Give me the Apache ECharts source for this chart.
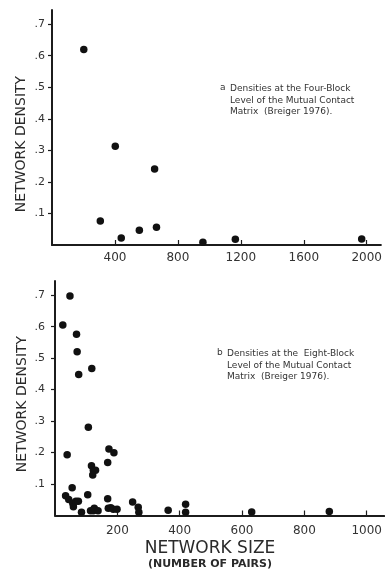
<!DOCTYPE html>
<html>
<head>
<meta charset="utf-8">
<script src="https://cdn.jsdelivr.net/npm/echarts@6/dist/echarts.min.js"></script>
<style>
html, body { margin: 0; padding: 0; background: #fff; }
#chart { width: 385px; height: 572px; }
</style>
</head>
<body>
<div id="chart"></div>
<script>
// panel a: four-block level
var sizeA = [202, 402, 307, 440, 555, 652, 664, 959, 1165, 1968];
var densityA = [0.620, 0.313, 0.076, 0.022, 0.047, 0.241, 0.056, 0.009, 0.018, 0.019];

// panel b: eight-block level
var sizeB = [34, 44, 55, 57, 59, 67, 75, 85, 105, 114, 123, 126, 138, 117, 123, 130, 121,
  169, 169, 173, 189, 171, 179, 187, 199, 249, 267, 269, 363, 419, 419,
  25, 48, 69, 71, 76, 118, 107, 39, 631, 880];
var densityB = [0.063, 0.051, 0.088, 0.039, 0.028, 0.045, 0.045, 0.010, 0.066, 0.015, 0.015, 0.023, 0.015, 0.158, 0.144, 0.144, 0.129,
  0.053, 0.168, 0.211, 0.199, 0.023, 0.025, 0.020, 0.020, 0.043, 0.026, 0.010, 0.017, 0.036, 0.010,
  0.605, 0.697, 0.576, 0.520, 0.448, 0.467, 0.280, 0.193, 0.011, 0.013];

var xTicksA = [400, 800, 1200, 1600, 2000];
var xTicksB = [200, 400, 600, 800, 1000];
var yTicks = [0.1, 0.2, 0.3, 0.4, 0.5, 0.6, 0.7];

var noteA = ['Densities at the Four-Block', 'Level of the Mutual Contact', 'Matrix  (Breiger 1976).'];
var noteB = ['Densities at the  Eight-Block', 'Level of the Mutual Contact', 'Matrix  (Breiger 1976).'];

function pairs(xs, ys) {
  var out = [];
  for (var i = 0; i < xs.length; i++) out.push([xs[i], ys[i]]);
  return out;
}

var ink = '#1c1c1c';
var font = 'DejaVu Sans';

function xAxisOpt(idx, max, ticks, margin) {
  return {
    gridIndex: idx,
    type: 'value',
    min: 0,
    max: max,
    splitLine: { show: false },
    axisLine: { lineStyle: { color: ink, width: 2 } },
    axisTick: { customValues: ticks, inside: true, length: 5, lineStyle: { color: ink, width: 1.2 } },
    axisLabel: {
      customValues: ticks,
      margin: margin,
      color: '#333',
      fontFamily: font,
      fontSize: 12,
      formatter: function (v) { return '' + v; }
    }
  };
}

function yAxisOpt(idx, margin) {
  return {
    gridIndex: idx,
    type: 'value',
    min: 0,
    max: 0.745,
    splitLine: { show: false },
    axisLine: { lineStyle: { color: ink, width: 2 } },
    axisTick: { customValues: yTicks, length: 4, lineStyle: { color: ink, width: 1.2 } },
    axisLabel: {
      customValues: yTicks,
      margin: margin,
      color: '#333',
      fontFamily: font,
      fontSize: 11,
      formatter: function (v) { return ('' + v).replace('0.', '.'); }
    }
  };
}

function noteText(letter, lines, x, y) {
  return [{
    type: 'text', x: x, y: y,
    style: { text: letter, font: '9px ' + font, fill: '#333', textAlign: 'left', textVerticalAlign: 'top' }
  }, {
    type: 'text', x: x + 10, y: y,
    style: { text: lines.join('\n'), font: '9px ' + font, lineHeight: 11.5, fill: '#333', textAlign: 'left', textVerticalAlign: 'top' }
  }];
}

var chart = echarts.init(document.getElementById('chart'));
chart.setOption({
  backgroundColor: '#ffffff',
  animation: false,
  grid: [
    { left: 52, right: 2, top: 10, height: 235 },
    { left: 55, right: 0, top: 281, height: 234.5 }
  ],
  xAxis: [xAxisOpt(0, 2090, xTicksA, 7), xAxisOpt(1, 1056, xTicksB, 9)],
  yAxis: [yAxisOpt(0, 7), yAxisOpt(1, 10)],
  series: [{
    type: 'scatter',
    xAxisIndex: 0,
    yAxisIndex: 0,
    symbolSize: 7.5,
    itemStyle: { color: '#111', opacity: 1 },
    data: pairs(sizeA, densityA)
  }, {
    type: 'scatter',
    xAxisIndex: 1,
    yAxisIndex: 1,
    symbolSize: 7.5,
    itemStyle: { color: '#111', opacity: 1 },
    data: pairs(sizeB, densityB)
  }],
  graphic: [
    {
      type: 'text', x: 21, y: 144, rotation: Math.PI / 2,
      style: { text: 'NETWORK DENSITY', font: '14px ' + font, fill: '#2a2a2a', textAlign: 'center', textVerticalAlign: 'middle' }
    },
    {
      type: 'text', x: 22, y: 404, rotation: Math.PI / 2,
      style: { text: 'NETWORK DENSITY', font: '14px ' + font, fill: '#2a2a2a', textAlign: 'center', textVerticalAlign: 'middle' }
    },
    {
      type: 'text', x: 210, y: 549,
      style: { text: 'NETWORK SIZE', font: '17px ' + font, fill: '#2a2a2a', textAlign: 'center', textVerticalAlign: 'middle' }
    },
    {
      type: 'text', x: 210, y: 564,
      style: { text: '(NUMBER OF PAIRS)', font: 'bold 11px ' + font, fill: '#2a2a2a', textAlign: 'center', textVerticalAlign: 'middle' }
    }
  ].concat(noteText('a', noteA, 220, 83)).concat(noteText('b', noteB, 217, 348))
});
</script>
</body>
</html>
